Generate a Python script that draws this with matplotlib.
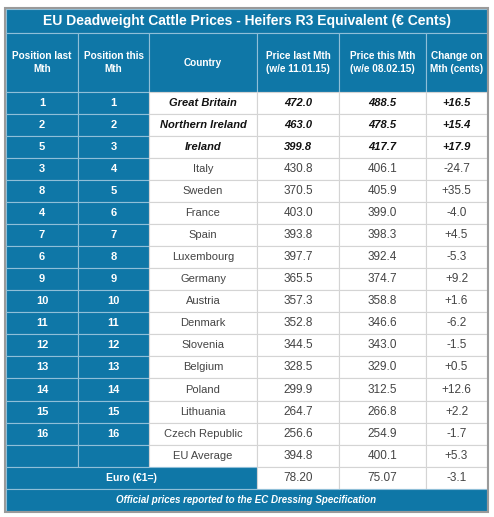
import matplotlib.pyplot as plt
from matplotlib.patches import Rectangle

title = "EU Deadweight Cattle Prices - Heifers R3 Equivalent (€ Cents)"
headers = ["Position last\nMth", "Position this\nMth", "Country",
           "Price last Mth\n(w/e 11.01.15)", "Price this Mth\n(w/e 08.02.15)",
           "Change on\nMth (cents)"]
pos_last = ["1", "2", "5", "3", "8", "4", "7", "6", "9", "10", "11", "12", "13", "14", "15", "16", ""]
pos_this = ["1", "2", "3", "4", "5", "6", "7", "8", "9", "10", "11", "12", "13", "14", "15", "16", ""]
countries = ["Great Britain", "Northern Ireland", "Ireland", "Italy", "Sweden", "France", "Spain",
             "Luxembourg", "Germany", "Austria", "Denmark", "Slovenia", "Belgium", "Poland",
             "Lithuania", "Czech Republic", "EU Average"]
price_last = ["472.0", "463.0", "399.8", "430.8", "370.5", "403.0", "393.8", "397.7", "365.5",
              "357.3", "352.8", "344.5", "328.5", "299.9", "264.7", "256.6", "394.8"]
price_this = ["488.5", "478.5", "417.7", "406.1", "405.9", "399.0", "398.3", "392.4", "374.7",
              "358.8", "346.6", "343.0", "329.0", "312.5", "266.8", "254.9", "400.1"]
change = ["+16.5", "+15.4", "+17.9", "-24.7", "+35.5", "-4.0", "+4.5", "-5.3", "+9.2",
          "+1.6", "-6.2", "-1.5", "+0.5", "+12.6", "+2.2", "-1.7", "+5.3"]
euro_label = "Euro (€1=)"
euro_vals = ["78.20", "75.07", "-3.1"]
footer = "Official prices reported to the EC Dressing Specification"

BLUE = "#0f77a7"
col_x = [6, 78, 149, 257, 339, 426, 487]
y_title, y_head, y_rows = 9.3, 33.3, 91.7
row_h = 22.06

plt.rcParams['font.family'] = ['Liberation Sans', 'DejaVu Sans']
fig = plt.figure(figsize=(4.94, 5.17), dpi=100)
ax = fig.add_axes([0, 0, 1, 1])
ax.set_xlim(0, 494)
ax.set_ylim(517, 0)
ax.axis("off")


def cell(x0, x1, y0, y1, fc, ec):
    ax.add_patch(Rectangle((x0, y0), x1 - x0, y1 - y0, facecolor=fc, edgecolor=ec, lw=0.8))


# title
cell(col_x[0], col_x[-1], y_title, y_head, BLUE, "#8fbfd8")
ax.text((col_x[0] + col_x[-1]) / 2, (y_title + y_head) / 2, title, color="white",
        fontsize=10, fontweight="bold", ha="center", va="center")

# header
for i, h in enumerate(headers):
    cell(col_x[i], col_x[i + 1], y_head, y_rows, BLUE, "#8fbfd8")
    ax.text((col_x[i] + col_x[i + 1]) / 2, (y_head + y_rows) / 2, h, color="white",
            fontsize=7.2, fontweight="bold", ha="center", va="center", linespacing=1.3)

# data rows
for r in range(len(countries)):
    y0 = y_rows + r * row_h
    y1 = y0 + row_h
    yc = (y0 + y1) / 2
    top3 = r < 3
    vals = [pos_last[r], pos_this[r], countries[r], price_last[r], price_this[r], change[r]]
    for i, v in enumerate(vals):
        if i < 2:
            cell(col_x[i], col_x[i + 1], y0, y1, BLUE, "#8fbfd8")
            ax.text((col_x[i] + col_x[i + 1]) / 2, yc, v, color="white", fontsize=8,
                    fontweight="bold", ha="center", va="center")
        else:
            cell(col_x[i], col_x[i + 1], y0, y1, "white", "#d4d4d4")
            ax.text((col_x[i] + col_x[i + 1]) / 2, yc, v,
                    color="#111111" if top3 else "#444444",
                    fontsize=(8 if i == 2 else 8.5) if not top3 else 8,
                    fontweight="bold" if top3 else "normal",
                    style="italic" if top3 else "normal", ha="center", va="center")

# euro row
y0 = y_rows + len(countries) * row_h
y1 = y0 + row_h
cell(col_x[0], col_x[3], y0, y1, BLUE, "#8fbfd8")
ax.text((col_x[0] + col_x[3]) / 2, (y0 + y1) / 2, euro_label, color="white", fontsize=7.5,
        fontweight="bold", ha="center", va="center")
for i, v in enumerate(euro_vals):
    cell(col_x[i + 3], col_x[i + 4], y0, y1, "white", "#d4d4d4")
    ax.text((col_x[i + 3] + col_x[i + 4]) / 2, (y0 + y1) / 2, v, color="#444444",
            fontsize=8.5, ha="center", va="center")

# footer
f0 = y1
f1 = 510.7
cell(col_x[0], col_x[-1], f0, f1, BLUE, "#8fbfd8")
ax.text((col_x[0] + col_x[-1]) / 2, (f0 + f1) / 2, footer, color="white", fontsize=7,
        fontweight="bold", style="italic", ha="center", va="center")

# outer frame
ax.add_patch(Rectangle((col_x[0] - 1, y_title - 1), col_x[-1] - col_x[0] + 2, f1 - y_title + 2,
                       facecolor="none", edgecolor="#9a9a9a", lw=1.5))

fig.savefig("out.png", dpi=100)
